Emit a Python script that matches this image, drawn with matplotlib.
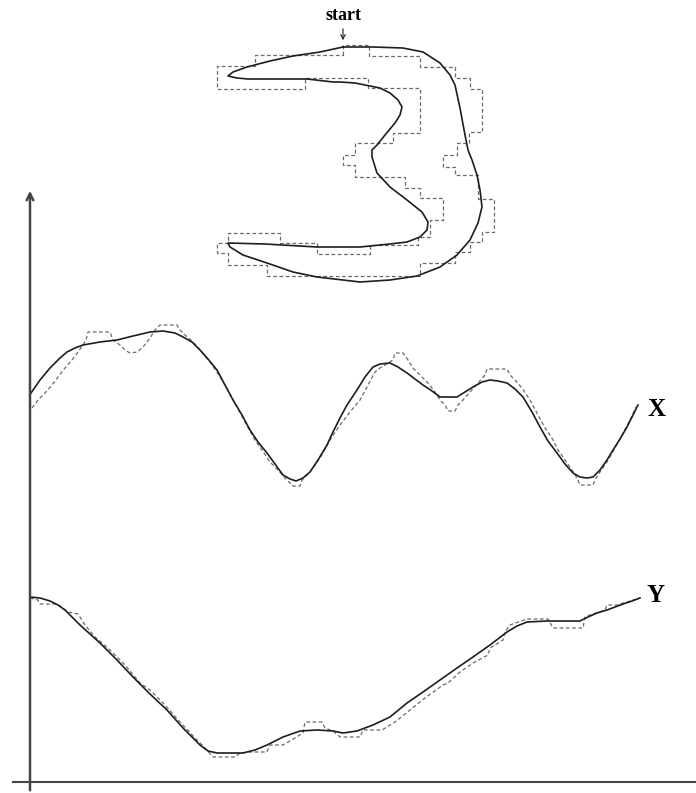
import numpy as np
import matplotlib.pyplot as plt

# the "3" contour, solid, starting at the arrow and going clockwise
shape_x = [343, 373, 403, 423, 440, 450, 455, 460, 465, 468, 472, 477, 480, 482, 478, 470, 457,
           440, 417, 390, 360, 343, 317, 293, 267, 243, 230, 228, 265, 317, 360, 370, 390, 407,
           420, 427, 428, 422, 407, 390, 377, 372, 372, 377, 385, 395, 400, 402, 398, 390, 380,
           370, 355, 340, 333, 307, 277, 248, 237, 228, 233, 247, 270, 293, 320, 343]
shape_y = [47, 47, 48, 52, 63, 75, 85, 108, 135, 150, 160, 175, 190, 207, 223, 240, 255,
           267, 276, 280, 282, 280, 277, 272, 263, 255, 247, 243, 244, 247, 247, 246, 244, 242,
           237, 230, 222, 212, 200, 187, 173, 157, 150, 145, 135, 123, 115, 107, 100, 93, 88,
           86, 83, 82, 82, 79, 79, 79, 78, 76, 72, 67, 61, 56, 52, 47]

# the staircase outline round the contour (dashed)
stair_x = [343, 343, 369, 369, 420, 420, 455, 455, 470, 470, 482, 482, 469, 469, 457, 457, 443,
           443, 455, 455, 478, 478, 494, 494, 482, 482, 470, 470, 455, 455, 420, 420, 267, 267,
           228, 228, 217, 217, 228, 228, 280, 280, 317, 317, 370, 370, 418, 418, 430, 430, 443,
           443, 420, 420, 405, 405, 355, 355, 343, 343, 355, 355, 393, 393, 420, 420, 368, 368,
           305, 305, 217, 217, 255, 255, 343]
stair_y = [55, 45, 45, 56, 56, 67, 67, 78, 78, 89, 89, 132, 132, 143, 143, 155, 155,
           167, 167, 175, 175, 199, 199, 232, 232, 242, 242, 252, 252, 263, 263, 276, 276, 265,
           265, 253, 253, 243, 243, 233, 233, 243, 243, 254, 254, 245, 245, 237, 237, 220, 220,
           198, 198, 188, 188, 177, 177, 165, 165, 155, 155, 143, 143, 133, 133, 88, 88, 78,
           78, 89, 89, 66, 66, 55, 55]

# X signal
x_t = [31, 40, 50, 60, 67, 75, 83, 100, 117, 133, 150, 163, 175, 183, 192, 200, 208, 217, 225,
       233, 242, 250, 258, 267, 275, 283, 290, 296, 303, 310, 318, 327, 333, 340, 347, 357, 365,
       373, 380, 390, 398, 407, 415, 423, 432, 440, 457, 465, 473, 482, 490, 498, 507, 515, 523,
       532, 540, 548, 557, 565, 573, 580, 587, 593, 600, 607, 613, 620, 627, 633, 638]
x_val = [393, 380, 368, 358, 352, 348, 345, 342, 340, 336, 332, 331, 333, 337, 342, 350, 359, 370,
         385, 400, 415, 430, 442, 453, 464, 475, 479, 481, 478, 472, 460, 445, 432, 418, 405, 390,
         377, 367, 364, 363, 367, 373, 379, 385, 391, 397, 397, 392, 387, 382, 380, 381, 383, 389,
         397, 412, 427, 441, 453, 464, 473, 477, 478, 477, 470, 460, 450, 439, 427, 415, 405]

# X staircase approximation
xs_t = [32, 38, 45, 52, 58, 65, 72, 78, 83, 86, 88, 110, 113, 120, 125, 130, 137, 143, 150, 155,
        160, 177, 180, 185, 193, 200, 210, 217, 225, 235, 245, 255, 262, 270, 278, 285, 290, 292,
        300, 302, 310, 320, 330, 340, 350, 360, 368, 375, 380, 385, 393, 395, 403, 408, 413, 420,
        428, 435, 440, 445, 448, 455, 458, 463, 470, 478, 485, 487, 507, 510, 515, 522, 530, 538,
        545, 550, 553, 558, 565, 572, 577, 580, 593, 596, 600, 607, 615, 622, 630, 636]
xs_val = [408, 400, 393, 385, 377, 368, 360, 352, 345, 340, 332, 332, 340, 345, 350, 353, 352, 347,
          338, 330, 325, 325, 330, 335, 342, 350, 362, 372, 385, 403, 422, 440, 450, 462, 470, 478,
          483, 486, 486, 480, 472, 458, 440, 425, 412, 400, 385, 372, 368, 365, 360, 353, 353, 360,
          368, 375, 383, 392, 400, 405, 411, 411, 405, 400, 392, 383, 375, 369, 369, 375, 380, 388,
          400, 415, 428, 435, 440, 450, 460, 470, 478, 485, 485, 478, 472, 462, 448, 435, 420, 407]

# Y signal
y_t = [30, 40, 50, 58, 65, 72, 80, 90, 100, 117, 133, 150, 167, 183, 200, 208, 217, 243, 255, 267,
       283, 300, 317, 333, 343, 357, 365, 373, 390, 407, 423, 440, 457, 473, 490, 507, 517, 527,
       547, 580, 588, 597, 607, 615, 623, 632, 640]
y_val = [597, 598, 601, 605, 610, 617, 625, 634, 643, 660, 677, 694, 710, 728, 745, 751, 753, 753,
         750, 745, 737, 731, 730, 731, 733, 731, 728, 725, 717, 703, 692, 680, 668, 657, 645, 632,
         626, 622, 621, 621, 617, 613, 610, 607, 604, 601, 598]

# Y staircase approximation
ys_t = [30, 38, 40, 55, 60, 68, 78, 85, 95, 110, 125, 140, 150, 165, 180, 195, 205, 213, 235, 240,
        250, 267, 270, 283, 295, 303, 305, 322, 325, 333, 340, 360, 363, 382, 395, 410, 425, 443,
        448, 460, 473, 488, 490, 503, 505, 510, 527, 548, 553, 583, 585, 590, 605, 607, 617, 620,
        630, 640]
ys_val = [598, 600, 604, 604, 606, 612, 614, 625, 637, 650, 665, 683, 690, 705, 722, 738, 748, 757,
          757, 753, 752, 752, 745, 745, 738, 733, 722, 722, 728, 731, 737, 737, 730, 730, 722, 710,
          698, 685, 683, 672, 663, 655, 648, 640, 632, 625, 619, 619, 628, 628, 617, 615, 610, 605,
          605, 604, 601, 598]

axis_col = '#444444'
line_col = '#1e1e1e'
dash_col = '#6a6a6a'


def main():
    fig = plt.figure(figsize=(6.96, 7.93), dpi=100)
    ax = fig.add_axes([0, 0, 1, 1])
    ax.set_xlim(0, 696)
    ax.set_ylim(793, 0)
    ax.axis('off')

    # axes with arrow on the vertical one
    ax.annotate('', xy=(30, 188), xytext=(30, 793),
                arrowprops=dict(arrowstyle='->', color=axis_col, lw=1.8, mutation_scale=12))
    ax.plot([13, 696], [782, 782], color=axis_col, lw=1.5)

    # the "3" and its staircase outline
    ax.plot(stair_x, stair_y, color=dash_col, lw=0.9, dashes=(3, 2))
    ax.plot(shape_x, shape_y, color=line_col, lw=1.2)
    ax.annotate('', xy=(343, 43), xytext=(343, 26),
                arrowprops=dict(arrowstyle='->', color=line_col, lw=0.8, mutation_scale=8))
    ax.text(343, 15, 'start', ha='center', va='center', fontsize=13,
            family='Liberation Serif', fontweight='bold')

    # X and Y signals
    ax.plot(xs_t, xs_val, color=dash_col, lw=0.9, dashes=(3, 2))
    ax.plot(x_t, x_val, color=line_col, lw=1.2)
    ax.plot(ys_t, ys_val, color=dash_col, lw=0.9, dashes=(3, 2))
    ax.plot(y_t, y_val, color=line_col, lw=1.2)

    ax.text(656, 409, 'X', ha='center', va='center', fontsize=18,
            family='Liberation Serif', fontweight='bold')
    ax.text(656, 595, 'Y', ha='center', va='center', fontsize=18,
            family='Liberation Serif', fontweight='bold')

    fig.savefig('out.png', dpi=100)


if __name__ == '__main__':
    main()
